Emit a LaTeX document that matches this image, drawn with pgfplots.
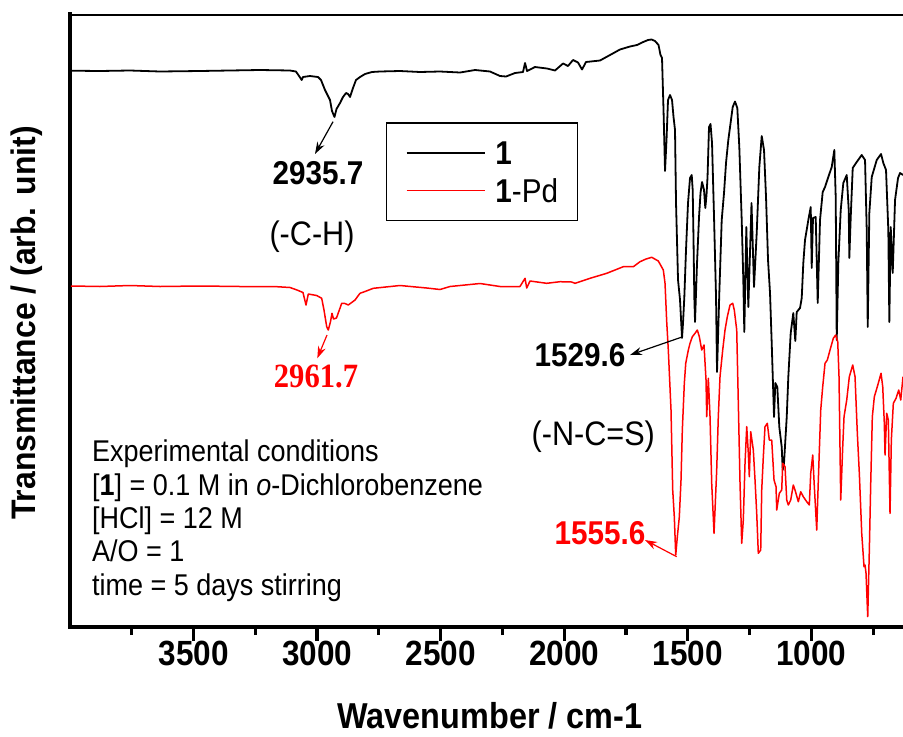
\documentclass[border=0pt]{standalone}
\usepackage{fontspec}
\setmainfont{Liberation Sans}
\newfontfamily\serifbold{Liberation Serif}
\usepackage{pgfplots}
\pgfplotsset{compat=1.18}
\usepackage{pgfplotstable}
\usetikzlibrary{arrows.meta}
\newcommand{\sq}[1]{\scalebox{0.9}[1]{#1}}

\pgfplotstableread{
w T
3996.0 556.3
3878.6 556.0
3757.2 556.5
3635.8 555.5
3473.9 556.0
3352.5 556.5
3231.1 557.0
3109.7 556.5
3085.4 555.5
3073.2 551.0
3062.3 547.0
3057.1 550.0
3028.7 551.0
2996.4 550.0
2984.2 547.0
2968.0 537.0
2947.8 527.0
2939.7 516.0
2929.6 510.0
2921.5 518.0
2907.3 524.0
2895.2 530.0
2883.0 534.0
2874.9 533.0
2866.8 530.0
2854.7 539.0
2842.6 547.0
2826.4 550.0
2806.1 553.0
2777.8 555.0
2745.4 555.5
2664.5 556.0
2583.6 555.0
2502.6 555.5
2421.7 554.5
2361.0 557.0
2300.3 555.5
2259.8 551.0
2235.5 550.5
2199.1 554.0
2166.7 555.0
2158.6 564.0
2150.5 556.0
2118.2 560.0
2069.6 558.5
2037.2 556.5
2004.8 563.5
1984.6 561.0
1964.4 567.0
1944.1 564.5
1927.9 557.5
1911.8 565.0
1855.1 566.5
1814.6 572.0
1774.2 577.5
1733.7 580.5
1705.4 582.0
1685.1 584.5
1660.8 587.0
1646.7 587.5
1632.5 586.0
1618.3 582.0
1610.3 572.0
1604.2 569.0
1598.1 517.0
1592.0 456.0
1586.0 487.0
1579.9 527.0
1571.8 532.0
1563.7 527.0
1557.6 510.0
1551.6 497.0
1547.5 424.0
1539.4 347.0
1531.3 327.0
1523.2 289.0
1519.2 304.0
1513.9 330.0
1507.1 377.0
1499.0 424.0
1490.9 449.0
1484.0 452.0
1480.0 437.0
1476.7 387.0
1473.5 330.0
1470.6 305.0
1462.5 364.0
1454.4 410.0
1448.4 434.0
1442.3 445.0
1434.2 437.0
1429.0 419.0
1424.1 432.0
1420.0 450.0
1414.0 500.0
1407.9 503.0
1401.8 484.0
1393.7 410.0
1385.6 330.0
1381.6 255.0
1372.3 334.0
1362.6 407.0
1353.3 434.0
1345.2 464.0
1335.9 487.0
1326.2 505.0
1318.1 520.0
1308.8 525.5
1299.5 519.0
1291.4 480.0
1281.7 407.0
1275.2 347.0
1271.2 295.0
1263.0 400.0
1254.9 320.0
1242.0 424.0
1231.9 340.0
1221.0 394.0
1210.4 460.0
1200.7 491.0
1191.4 477.0
1183.3 430.0
1175.2 367.0
1167.1 334.0
1160.3 284.0
1150.9 210.0
1145.7 244.0
1137.6 240.0
1129.5 200.0
1119.8 180.0
1115.7 157.0
1110.5 164.0
1099.5 210.0
1093.1 250.0
1083.4 294.0
1072.9 314.0
1064.8 286.0
1059.1 315.0
1045.7 319.0
1038.8 329.0
1032.4 364.0
1025.5 387.0
1012.1 407.0
1002.4 420.0
998.4 359.0
993.2 409.0
982.2 410.0
974.1 324.0
964.8 407.0
953.9 435.0
944.5 440.0
931.2 450.0
917.4 460.0
906.9 477.0
901.3 430.0
897.2 287.0
890.7 364.0
881.0 417.0
870.5 444.0
856.7 452.0
848.6 417.0
846.2 369.0
840.5 410.0
832.4 459.0
816.2 465.0
796.0 472.0
782.6 467.0
775.8 397.0
771.7 300.0
765.2 414.0
755.5 450.0
735.3 467.0
717.9 473.0
708.6 464.0
697.7 457.0
688.4 397.0
684.3 305.0
678.7 400.0
670.6 354.0
661.2 427.0
649.1 449.0
641.0 454.0
628.9 452.0
}\blackdata

\pgfplotstableread{
w T
3996.0 341.0
3878.6 340.5
3757.2 341.5
3635.8 340.5
3473.9 341.0
3312.0 340.5
3162.3 340.3
3109.7 339.5
3081.3 337.0
3057.1 334.5
3044.9 322.0
3035.6 333.0
3001.6 331.5
2981.4 328.7
2972.1 317.0
2961.1 300.3
2954.7 297.0
2945.8 305.3
2939.7 313.7
2933.6 308.0
2921.5 309.0
2900.4 323.7
2887.1 323.5
2873.7 322.0
2846.6 327.0
2826.4 333.7
2806.1 335.5
2772.6 338.7
2664.5 341.5
2556.4 339.0
2502.6 337.5
2462.1 340.5
2340.7 343.5
2259.8 340.5
2178.9 340.5
2158.6 348.7
2151.7 339.0
2138.4 346.0
2070.8 343.7
2017.0 345.3
1969.6 345.0
1956.3 343.7
1895.6 348.7
1828.0 353.7
1760.8 360.3
1720.3 360.3
1693.2 365.3
1668.9 368.0
1645.8 369.7
1619.1 366.0
1598.9 357.0
1592.0 343.7
1585.2 305.3
1578.7 277.0
1567.8 217.0
1560.9 137.0
1554.4 110.0
1548.7 72.0
1542.3 90.0
1534.2 110.0
1527.3 147.0
1522.0 197.0
1513.9 243.7
1508.2 263.7
1497.7 277.0
1490.9 283.7
1481.5 290.3
1470.6 293.7
1461.3 297.0
1453.2 290.3
1443.5 277.0
1434.2 282.0
1426.1 247.0
1423.3 210.3
1416.8 248.7
1409.9 210.3
1403.1 143.7
1393.7 93.7
1389.7 117.0
1382.9 157.0
1376.4 210.3
1369.5 250.3
1358.6 277.0
1349.2 297.0
1339.9 310.3
1329.0 322.0
1318.1 323.7
1311.7 317.0
1301.9 297.0
1295.4 223.7
1288.5 143.7
1281.7 83.7
1275.2 107.0
1268.3 163.7
1261.4 200.3
1254.9 173.7
1250.9 150.3
1245.2 195.3
1234.7 177.0
1227.8 147.0
1221.0 113.7
1214.5 73.7
1204.8 77.0
1200.7 137.0
1194.2 170.3
1187.4 200.3
1178.1 203.7
1170.0 187.0
1160.3 187.0
1150.9 147.0
1142.8 140.3
1140.0 117.0
1129.5 133.7
1119.8 137.0
1115.7 163.7
1106.4 160.3
1099.5 127.0
1093.1 122.0
1083.4 127.0
1072.9 142.0
1065.9 137.0
1052.6 125.3
1042.9 135.3
1032.4 130.3
1018.6 125.3
1008.1 122.0
1002.4 153.7
994.3 172.0
987.8 140.3
978.1 97.0
971.6 147.0
961.9 217.0
953.9 240.3
944.5 263.7
935.2 267.0
924.3 277.0
911.0 288.7
901.3 292.0
893.1 285.3
887.9 250.3
881.0 127.0
872.9 180.3
867.6 210.3
856.7 227.0
846.2 250.3
832.4 262.0
823.1 250.3
813.8 193.7
805.7 153.7
796.0 93.7
786.7 60.3
782.6 62.0
778.6 53.7
771.7 10.3
765.2 77.0
759.6 143.7
753.1 210.3
745.0 230.3
732.9 240.3
717.9 253.7
711.0 240.3
704.6 203.7
701.7 172.0
694.9 213.7
688.4 207.0
681.5 113.7
676.2 187.0
668.1 223.7
657.2 228.7
646.3 237.0
638.2 227.0
628.9 250.3
}\reddata

\begin{document}
\begin{tikzpicture}
\begin{axis}[
  scale only axis, width=416.5pt, height=306.5pt,
  xmin=629, xmax=4000, ymin=0, ymax=613,
  x dir=reverse,
  axis x line*=bottom, axis y line*=left,
  axis line style={line width=1.8pt, line cap=rect},
  ytick=\empty,
  xtick={1000,1500,2000,2500,3000,3500},
  xticklabels={\sq{1000},\sq{1500},\sq{2000},\sq{2500},\sq{3000},\sq{3500}},
  minor xtick={750,1250,1750,2250,2750,3250,3750},
  tick align=outside,
  major tick length=7pt, minor tick length=4pt,
  every major x tick/.append style={black, line width=1.6pt},
  every minor x tick/.append style={black, line width=1.6pt},
  xtick style={black, line width=1.6pt},
  xticklabel style={font=\bfseries\fontsize{17.5}{20}\selectfont, anchor=north, inner sep=0pt, yshift=0pt},
  xlabel={\sq{\textbf{Wavenumber / cm-1}}},
  xlabel style={at={(rel axis cs:0.504,-0.1648)}, anchor=base, font=\fontsize{18}{20}\selectfont},
  ylabel={\scalebox{0.94}[1]{\textbf{Transmittance / (arb. unit)}}},
  ylabel style={at={(rel axis cs:-0.0516,0.496)}, anchor=center, font=\fontsize{17}{20}\selectfont},
  legend style={at={(0.3794,0.8233)}, anchor=north west, draw=black, line width=0.6pt,
    inner xsep=9.5pt, inner ysep=5.4pt, column sep=5pt, row sep=0pt,
    font=\fontsize{16.5}{19}\selectfont,
    nodes={inner sep=0pt, text height=15.5pt, text depth=3.5pt}},
  legend cell align=left,
  legend image code/.code={\draw[#1] (0pt,0pt) -- (39pt,0pt);},
]
\addplot[black, line width=0.9pt, line join=round] table[x=w, y=T] {\blackdata};
\addlegendentry{\sq{\textbf{1}}}
\addplot[red, line width=0.75pt, line join=round] table[x=w, y=T] {\reddata};
\addlegendentry{\sq{\textbf{1}-Pd}}

\draw[line width=1.8pt, line cap=rect] (rel axis cs:0,1) -- (rel axis cs:1,1);

\node[font=\bfseries\fontsize{16.5}{19}\selectfont] at (axis cs:2996.4,454) {\sq{2935.7}};
\node[font=\fontsize{17}{19}\selectfont] at (axis cs:3020.6,390.3) {\sq{(-C-H)}};
\node[red, font=\serifbold\bfseries\fontsize{17}{19}\selectfont] at (axis cs:3004.4,250.3) {\sq{2961.7}};
\node[font=\bfseries\fontsize{16.5}{19}\selectfont] at (axis cs:1936,272) {\sq{1529.6}};
\node[font=\fontsize{17}{19}\selectfont] at (axis cs:1882.2,190.3) {\sq{(-N-C=S)}};
\node[red, font=\bfseries\fontsize{16.5}{19}\selectfont] at (axis cs:1855.1,93.7) {\sq{1555.6}};

\draw[-{Stealth[length=6pt,width=4pt]}, line width=0.6pt] (axis cs:2935.6,505.3) -- (axis cs:3008.5,473);
\draw[red, -{Stealth[length=6pt,width=4pt]}, line width=0.6pt] (axis cs:2959.9,292) -- (axis cs:2999.2,268.7);
\draw[-{Stealth[length=6pt,width=4pt]}, line width=0.6pt] (axis cs:1523.2,290) -- (axis cs:1733.7,272);
\draw[red, -{Stealth[length=6pt,width=4pt]}, line width=0.6pt] (axis cs:1544.7,70.3) -- (axis cs:1673,87);

\begin{scope}[every node/.style={anchor=base west, inner sep=0pt, font=\fontsize{15}{17}\selectfont}]
\node at (axis cs:3912.2,165.3) {\sq{Experimental conditions}};
\node at (axis cs:3912.2,132) {\sq{[\textbf{1}] = 0.1 M in \textit{o}-Dichlorobenzene}};
\node at (axis cs:3912.2,98.7) {\sq{[HCl] = 12 M}};
\node at (axis cs:3912.2,65.3) {\sq{A/O = 1}};
\node at (axis cs:3912.2,32) {\sq{time = 5 days stirring}};
\end{scope}

\coordinate (bl) at (rel axis cs:0,0);
\coordinate (tr) at (rel axis cs:1,1);
\end{axis}
\pgfresetboundingbox
\path[use as bounding box] ([xshift=-35pt,yshift=-54.5pt]bl) rectangle ([yshift=7pt]tr);
\end{tikzpicture}
\end{document}
